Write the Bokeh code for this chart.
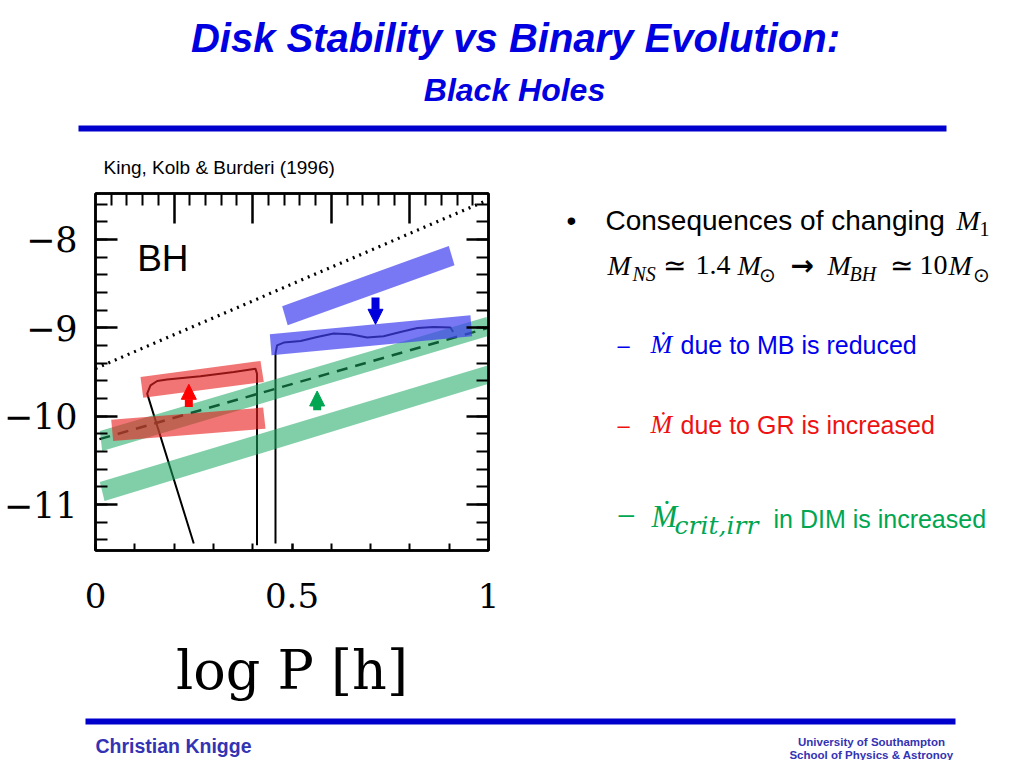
from bokeh.plotting import figure
from bokeh.models import Range1d, FixedTicker, LinearAxis, Arrow, NormalHead
from bokeh.layouts import column, row
from bokeh.embed import file_html
from bokeh.resources import INLINE
from bokeh.core.properties import value

# ---------------- data ----------------
# x: log P [h], y: log mass transfer rate
dotted_x = [0.0, 1.0]
dotted_y = [-9.46, -7.55]

dashed_x = [0.01, 1.0]
dashed_y = [-10.26, -9.0]

track1_x = [0.250, 0.1315, 0.140, 0.157, 0.182, 0.267, 0.352, 0.407, 0.411, 0.411]
track1_y = [-11.44, -9.745, -9.651, -9.602, -9.586, -9.549, -9.50, -9.462, -9.52, -11.46]

track2_x = [0.458, 0.458, 0.462, 0.479, 0.522, 0.564, 0.606, 0.649, 0.691, 0.733,
            0.776, 0.819, 0.861, 0.903, 0.910]
track2_y = [-11.44, -9.292, -9.198, -9.167, -9.149, -9.104, -9.065, -9.073, -9.11, -9.096,
            -9.047, -9.002, -8.99, -8.997, -9.047]

# highlighted bands (corner points)
green_hi_x = [0.011, 0.995, 1.003, 0.017]
green_hi_y = [-10.168, -8.877, -9.088, -10.395]
green_lo_x = [0.011, 1.0, 1.0, 0.023]
green_lo_y = [-10.746, -9.424, -9.632, -10.961]
red_hi_x = [0.1145, 0.4198, 0.4283, 0.1214]
red_hi_y = [-9.557, -9.375, -9.613, -9.79]
red_lo_x = [0.040, 0.4266, 0.4326, 0.045]
red_lo_y = [-10.039, -9.903, -10.141, -10.281]
blue_hi_x = [0.475, 0.899, 0.9135, 0.489]
blue_hi_y = [-8.756, -8.073, -8.292, -8.971]
blue_lo_x = [0.4436, 0.954, 0.9585, 0.448]
blue_lo_y = [-9.073, -8.858, -9.096, -9.311]

# arrows
arrow_x = [0.2375, 0.564, 0.7125]
arrow_y0 = [-9.896, -9.934, -8.657]
arrow_y1 = [-9.639, -9.715, -8.96]
arrow_colors = ["#ff0000", "#00a651", "#0000dd"]

# ticks
y_major = [-11, -10, -9, -8]
y_minor = [-11.4, -11.2, -11.0, -10.8, -10.6, -10.4, -10.2, -10.0, -9.8, -9.6, -9.4, -9.2,
           -9.0, -8.8, -8.6, -8.4, -8.2, -8.0, -7.8, -7.6]
y_labels = {-8: "\u22128", -9: "\u22129", -10: "\u221210", -11: "\u221211"}
x_major = [0, 0.5, 1]
x_minor = [0.1, 0.2, 0.3, 0.4, 0.6, 0.7, 0.8, 0.9]
x_labels = {0: "0", 0.5: "0.5", 1: "1"}
top_major = [0.2, 0.4, 0.6, 0.8]
top_minor = [0.04, 0.08, 0.12, 0.16, 0.24, 0.28, 0.32, 0.36, 0.44, 0.48, 0.52, 0.56,
             0.64, 0.68, 0.72, 0.76, 0.84, 0.88, 0.92, 0.96]

# ---------------- layout sizes (page pixels) ----------------
W = 1016
HEAD_H, MID_H, FOOT_H = 180, 532, 48
CHART_W = 520
SIDE_W = W - CHART_W
FR_TOP, FR_H = 13, 357          # chart frame: top border and height
FR_BOT = MID_H - FR_TOP - FR_H
BASE_K = 0.36                   # baseline correction (fraction of font size)

TITLE_BLUE = "#0000e0"
RULE_BLUE = "#0000cc"
FOOT_BLUE = "#3333b3"


def canvas(w, h, x0, x1, ytop, ybot, **kw):
    p = figure(width=w, height=h, x_range=Range1d(x0, x1), y_range=Range1d(ybot, ytop),
               x_axis_type=None, y_axis_type=None, toolbar_location=None,
               output_backend="svg", outline_line_color=None, **kw)
    p.background_fill_color = "white"
    p.border_fill_color = "white"
    return p


def txt(p, x, y, s, size, color="black", font="Liberation Sans", style="normal", align="left"):
    # y is the wanted baseline in page pixels (y grows downward)
    p.text(x=[x], y=[y - BASE_K * size], text=[s], text_font=value(font),
           text_font_size=value(f"{size}px"), text_font_style=style, text_color=color,
           text_align=align, text_baseline="alphabetic")


# ---------------- header ----------------
head = canvas(W, HEAD_H, 0, W, 0, HEAD_H, min_border=0)
txt(head, 515, 52, "Disk Stability vs Binary Evolution:", 40, TITLE_BLUE, style="bold italic", align="center")
txt(head, 514, 101, "Black Holes", 32, TITLE_BLUE, style="bold italic", align="center")
head.quad(left=[78], right=[946], top=[125], bottom=[131], fill_color=RULE_BLUE, line_color=None)
txt(head, 103, 174, "King, Kolb & Burderi (1996)", 19)

# ---------------- chart ----------------
p = figure(width=CHART_W, height=MID_H, x_range=Range1d(0, 1.0), y_range=Range1d(-11.52, -7.48),
           toolbar_location=None, output_backend="svg",
           min_border_left=95, min_border_right=CHART_W - 95 - 393,
           min_border_top=FR_TOP, min_border_bottom=FR_BOT)
p.grid.visible = False
p.background_fill_color = "white"
p.border_fill_color = "white"
p.outline_line_color = "black"
p.outline_line_width = 2.5

xa = p.xaxis[0]
xa.ticker = FixedTicker(ticks=x_major, minor_ticks=x_minor)
xa.major_label_overrides = x_labels
xa.major_tick_in = 7
xa.major_tick_out = 0
xa.minor_tick_in = 7
xa.minor_tick_out = 0
xa.major_label_standoff = 32
xa.major_label_text_font = "DejaVu Serif"
xa.major_label_text_font_size = "34px"
xa.major_label_text_color = "black"
xa.axis_label = "log P [h]"
xa.axis_label_text_font = "DejaVu Serif"
xa.axis_label_text_font_style = "normal"
xa.axis_label_text_font_size = "54px"
xa.axis_label_text_color = "black"
xa.axis_label_standoff = 28

ya = p.yaxis[0]
ya.ticker = FixedTicker(ticks=y_major, minor_ticks=y_minor)
ya.major_label_overrides = y_labels
ya.major_tick_in = 22
ya.major_tick_out = 0
ya.minor_tick_in = 12
ya.minor_tick_out = 0
ya.major_label_standoff = 18
ya.major_label_text_font = "DejaVu Serif"
ya.major_label_text_font_size = "35px"
ya.major_label_text_color = "black"

top_ax = LinearAxis(ticker=FixedTicker(ticks=top_major, minor_ticks=top_minor),
                    major_tick_in=30, major_tick_out=0, minor_tick_in=12, minor_tick_out=0,
                    major_label_overrides={t: "" for t in top_major},
                    major_label_text_color=None, major_label_text_font_size="8px",
                    major_label_standoff=0)
right_ax = LinearAxis(ticker=FixedTicker(ticks=y_major, minor_ticks=y_minor),
                      major_tick_in=22, major_tick_out=0, minor_tick_in=12, minor_tick_out=0,
                      major_label_overrides={t: "" for t in y_major},
                      major_label_text_color=None, major_label_text_font_size="8px",
                      major_label_standoff=0)
p.add_layout(top_ax, "above")
p.add_layout(right_ax, "right")
for ax in (xa, ya, top_ax, right_ax):
    ax.axis_line_color = "black"
    ax.axis_line_width = 2.5
    ax.major_tick_line_width = 2.5
    ax.minor_tick_line_width = 2
    ax.major_tick_line_color = "black"
    ax.minor_tick_line_color = "black"

# curves
p.line(dotted_x, dotted_y, line_color="black", line_width=3.2, line_dash="2 5")
p.line(dashed_x, dashed_y, line_color="black", line_width=2.5, line_dash="11 8")
p.line(track1_x, track1_y, line_color="black", line_width=2)
p.line(track2_x, track2_y, line_color="black", line_width=2)

# bands
for bx, by in ((green_hi_x, green_hi_y), (green_lo_x, green_lo_y)):
    p.patch(bx, by, fill_color="#18a860", fill_alpha=0.55, line_color=None)
for bx, by in ((red_hi_x, red_hi_y), (red_lo_x, red_lo_y)):
    p.patch(bx, by, fill_color="#e8201e", fill_alpha=0.62, line_color=None)
for bx, by in ((blue_hi_x, blue_hi_y), (blue_lo_x, blue_lo_y)):
    p.patch(bx, by, fill_color="#3f3fef", fill_alpha=0.7, line_color=None)

# arrows
for ax_, y0, y1, c in zip(arrow_x, arrow_y0, arrow_y1, arrow_colors):
    p.add_layout(Arrow(x_start=ax_, y_start=y0, x_end=ax_, y_end=y1, line_color=c, line_width=8,
                       end=NormalHead(size=15, fill_color=c, line_color=c, line_width=1)))

# "BH" tag (baseline corrected like the other texts: 0.36 * 37 px in data units)
p.text(x=[0.106], y=[-8.367 + BASE_K * 37 / 88.3], text=["BH"], text_font=value("Liberation Sans"),
       text_font_size=value("37px"), text_color="black", text_baseline="alphabetic")

# ---------------- side text (frame aligned with the chart frame) ----------------
side = canvas(SIDE_W, MID_H, CHART_W, W, HEAD_H + FR_TOP, HEAD_H + FR_TOP + FR_H,
              min_border_left=0, min_border_right=0,
              min_border_top=FR_TOP, min_border_bottom=FR_BOT)
SERIF = "Liberation Serif"
txt(side, 566, 230, "\u2022", 28)
txt(side, 605, 230, "Consequences of changing", 28)
txt(side, 956, 230, "M", 28, font=SERIF, style="italic")
txt(side, 979, 236, "1", 20, font=SERIF)

txt(side, 607, 275, "M", 28, font=SERIF, style="italic")
txt(side, 632, 281, "NS", 20, font=SERIF, style="italic")
txt(side, 662, 275, "\u2243", 28, font=SERIF)
txt(side, 695, 275, "1.4", 28, font=SERIF)
txt(side, 737, 275, "M", 28, font=SERIF, style="italic")
txt(side, 758, 282, "\u2299", 20, font=SERIF)
txt(side, 790, 275, "\u2192", 28, font="DejaVu Sans", style="bold")
txt(side, 827, 275, "M", 28, font=SERIF, style="italic")
txt(side, 849, 281, "BH", 20, font=SERIF, style="italic")
txt(side, 889, 275, "\u2243", 28, font=SERIF)
txt(side, 919, 275, "10", 28, font=SERIF)
txt(side, 948, 275, "M", 28, font=SERIF, style="italic")
txt(side, 972, 282, "\u2299", 20, font=SERIF)

BLUE_T, RED_T, GREEN_T = "#0000ee", "#ee1111", "#00a651"
txt(side, 617, 353, "\u2013", 22, BLUE_T)
txt(side, 650, 353, "\u1E40", 26, BLUE_T, font=SERIF, style="italic")
txt(side, 680, 353, "due to MB is reduced", 25, BLUE_T)

txt(side, 617, 433, "\u2013", 22, RED_T)
txt(side, 650, 433, "\u1E40", 26, RED_T, font=SERIF, style="italic")
txt(side, 680, 433, "due to GR is increased", 25, RED_T)

txt(side, 618, 523, "\u2013", 28, GREEN_T)
txt(side, 651, 527, "\u1E40", 31, GREEN_T, font=SERIF, style="italic")
txt(side, 674, 534, "crit,irr", 25, GREEN_T, font="DejaVu Serif", style="italic")
txt(side, 773, 527, "in DIM is increased", 25, GREEN_T)

# ---------------- footer ----------------
foot = canvas(W, FOOT_H, 0, W, HEAD_H + MID_H, HEAD_H + MID_H + FOOT_H, min_border=0)
foot.quad(left=[85], right=[955], top=[718], bottom=[724], fill_color=RULE_BLUE, line_color=None)
txt(foot, 95, 753, "Christian Knigge", 19.5, FOOT_BLUE, style="bold")
txt(foot, 871, 746, "University of Southampton", 11.5, FOOT_BLUE, style="bold", align="center")
txt(foot, 871, 759, "School of Physics & Astronoy", 11.5, FOOT_BLUE, style="bold", align="center")

layout = column(head, row(p, side), foot)
open("out.html", "w").write(file_html(layout, INLINE))
